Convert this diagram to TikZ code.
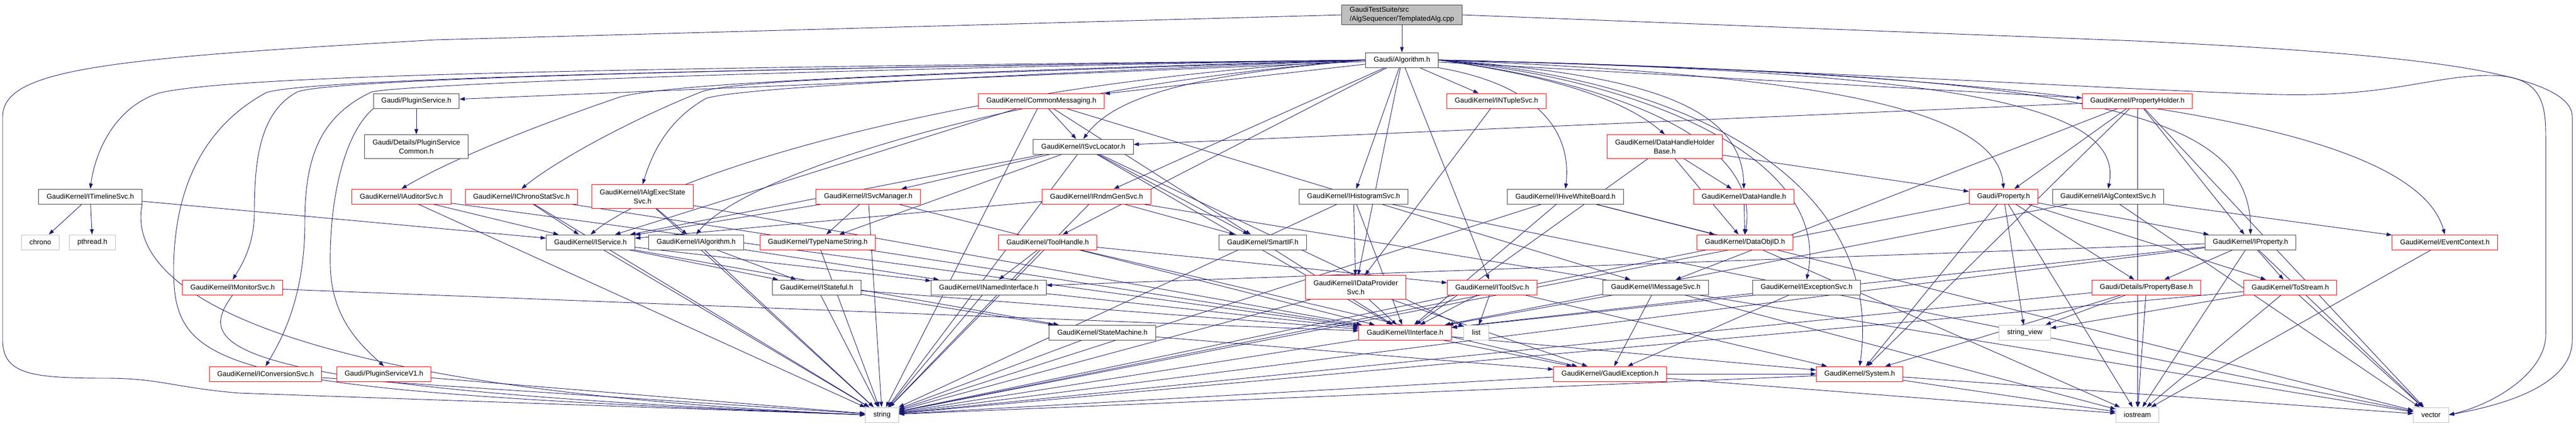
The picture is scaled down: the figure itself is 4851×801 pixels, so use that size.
\documentclass[tikz,border=0pt]{standalone}
\usepackage{fontspec}
\setmainfont{Liberation Sans}
\usetikzlibrary{arrows.meta}
\definecolor{edgec}{HTML}{191970}
\definecolor{grayb}{HTML}{BFBFBF}
\definecolor{darkb}{HTML}{404040}
\definecolor{redb}{HTML}{FF0000}
\pgfdeclarelayer{bg}
\pgfdeclarelayer{paper}
\pgfsetlayers{paper,bg,main}
\begin{document}
\begin{tikzpicture}[x=1pt,y=1pt,
  nbox/.style={draw, line width=1pt, fill=white, inner xsep=15pt, inner ysep=4pt, minimum height=28pt, font=\fontsize{13.3}{17}\selectfont, align=center},
  nb/.style={nbox, draw=darkb},
  nr/.style={nbox, draw=redb},
  ng/.style={nbox, draw=grayb},
  two/.style={minimum height=45pt},
  e/.style={draw=edgec, line width=0.9pt, -{Triangle[length=10pt,width=7pt]}}]
\begin{pgfonlayer}{paper}
\fill[white] (0,0) rectangle (4851,-801);
\end{pgfonlayer}
\useasboundingbox (0,0) rectangle (4851,-801);

% nodes
\node[nb, fill=grayb, align=left] (root) at (2640,-28) {GaudiTestSuite/src\\/AlgSequencer/TemplatedAlg.cpp};
\node[nb] (alg) at (2640,-113) {Gaudi/Algorithm.h};
\node[nb] (plug) at (784,-190) {Gaudi/PluginService.h};
\node[nb, two] (plugc) at (784,-276) {Gaudi/Details/PluginService\\Common.h};
\node[nr] (plugv1) at (723,-704) {Gaudi/PluginServiceV1.h};
\node[nr] (cmsg) at (1961,-190) {GaudiKernel/CommonMessaging.h};
\node[nr] (ntup) at (2818,-190) {GaudiKernel/INTupleSvc.h};
\node[nr] (ph) at (4025,-190) {GaudiKernel/PropertyHolder.h};
\node[nb] (svcloc) at (2040,-276) {GaudiKernel/ISvcLocator.h};
\node[nr, two] (dhhb) at (3135,-276) {GaudiKernel/DataHandleHolder\\Base.h};
\node[nb] (timel) at (170,-370) {GaudiKernel/ITimelineSvc.h};
\node[nr] (aud) at (756,-370) {GaudiKernel/IAuditorSvc.h};
\node[nr] (chst) at (982,-370) {GaudiKernel/IChronoStatSvc.h};
\node[nr, two] (aes) at (1210,-370) {GaudiKernel/IAlgExecState\\Svc.h};
\node[nr] (svcm) at (1635,-370) {GaudiKernel/ISvcManager.h};
\node[nr] (rndm) at (2065,-370) {GaudiKernel/IRndmGenSvc.h};
\node[nb] (hist) at (2549,-370) {GaudiKernel/IHistogramSvc.h};
\node[nb] (hive) at (2948,-370) {GaudiKernel/IHiveWhiteBoard.h};
\node[nr] (dh) at (3284,-370) {GaudiKernel/DataHandle.h};
\node[nr] (prop) at (3773,-370) {Gaudi/Property.h};
\node[nb] (actx) at (3970,-370) {GaudiKernel/IAlgContextSvc.h};
\node[ng] (chrono) at (76,-456) {chrono};
\node[ng] (pthread) at (174,-456) {pthread.h};
\node[nb] (isvc) at (1112,-456) {GaudiKernel/IService.h};
\node[nb] (ialg) at (1311,-456) {GaudiKernel/IAlgorithm.h};
\node[nr] (tns) at (1540,-456) {GaudiKernel/TypeNameString.h};
\node[nr] (th) at (1973,-456) {GaudiKernel/ToolHandle.h};
\node[nb] (sif) at (2378,-456) {GaudiKernel/SmartIF.h};
\node[nr] (doid) at (3286,-456) {GaudiKernel/DataObjID.h};
\node[nb] (iprop) at (4238,-456) {GaudiKernel/IProperty.h};
\node[nr] (ectx) at (4604,-456) {GaudiKernel/EventContext.h};
\node[nr] (mon) at (438,-541) {GaudiKernel/IMonitorSvc.h};
\node[nb] (istf) at (1538,-541) {GaudiKernel/IStateful.h};
\node[nb] (inamed) at (1862,-541) {GaudiKernel/INamedInterface.h};
\node[nr, two] (idp) at (2553,-541) {GaudiKernel/IDataProvider\\Svc.h};
\node[nr] (itool) at (2810,-541) {GaudiKernel/IToolSvc.h};
\node[nb] (imsg) at (3118,-541) {GaudiKernel/IMessageSvc.h};
\node[nb] (iexc) at (3402,-541) {GaudiKernel/IExceptionSvc.h};
\node[nr] (pbase) at (4042,-541) {Gaudi/Details/PropertyBase.h};
\node[nr] (tostr) at (4313,-541) {GaudiKernel/ToStream.h};
\node[nb] (sm) at (2076,-626) {GaudiKernel/StateMachine.h};
\node[nr] (iint) at (2646,-626) {GaudiKernel/IInterface.h};
\node[ng] (list) at (2780,-626) {list};
\node[ng] (sview) at (3813,-626) {string\_view};
\node[nr] (conv) at (500,-704) {GaudiKernel/IConversionSvc.h};
\node[nr] (gexc) at (3032,-704) {GaudiKernel/GaudiException.h};
\node[nr] (sys) at (3502,-704) {GaudiKernel/System.h};
\node[ng] (string) at (1661,-781) {string};
\node[ng] (iostream) at (4025,-781) {iostream};
\node[ng] (vector) at (4578,-781) {vector};

\begin{pgfonlayer}{bg}
% root
\draw[e] (root) -- (alg);
\draw[e] (root.west) -- (820,-75) .. controls (200,-110) and (5,-130) .. (5,-220) -- (5,-640) .. controls (5,-705) and (60,-712) .. (200,-712) .. controls (300,-712) and (330,-730) .. (450,-740) -- (string.west);
\draw[e] (root.east) -- (4020,-77) .. controls (4500,-100) and (4844,-130) .. (4844,-220) -- (4844,-640) .. controls (4844,-730) and (4700,-765) .. (vector.east);
% Algorithm.h
\draw[e] (alg) -- (plug);
\draw[e] (alg) -- (cmsg);
\draw[e] (alg) -- (ntup);
\draw[e] (alg) -- (ph);
\draw[e] (alg) -- (rndm);
\draw[e] (alg) -- (th);
\draw[e] (alg) -- (hist);
\draw[e] (alg) -- (idp);
\draw[e] (alg) -- (itool);
\draw[e] (alg.west) .. controls (1200,-128) and (450,-140) .. (300,-175) .. controls (220,-200) and (180,-280) .. (timel.north);
\draw[e] (alg.west) .. controls (1300,-130) and (620,-150) .. (560,-173) .. controls (490,-210) and (479,-300) .. (479,-400) .. controls (479,-460) and (455,-500) .. (mon.north);
\draw[e] (alg.west) .. controls (1400,-133) and (760,-160) .. (700,-173) .. controls (600,-220) and (574,-300) .. (574,-420) .. controls (574,-560) and (530,-640) .. (conv.north);
\draw[e] (alg.west) .. controls (1300,-130) and (560,-150) .. (500,-175) .. controls (400,-230) and (330,-330) .. (327,-500) .. controls (325,-700) and (400,-735) .. (string.west);
\draw[e] (alg.west) .. controls (1600,-140) and (1250,-160) .. (1166,-183) .. controls (1000,-240) and (850,-300) .. (aud.north);
\draw[e] (alg.west) .. controls (1700,-142) and (1400,-150) .. (1323,-172) .. controls (1200,-220) and (1050,-300) .. (chst.north);
\draw[e] (alg.west) .. controls (1800,-145) and (1400,-165) .. (1330,-185) .. controls (1250,-230) and (1225,-300) .. (aes.north);
\draw[e] (alg.west) .. controls (1800,-155) and (1250,-330) .. (isvc.north);
\draw[e] (alg.west) .. controls (1900,-165) and (1400,-330) .. (ialg.north);
\draw[e] (alg.west) .. controls (2250,-140) and (2100,-180) .. (svcloc.north);
\draw[e] (alg.east) .. controls (2900,-140) and (3050,-180) .. (dhhb.north);
\draw[e] (alg.south east) .. controls (2900,-160) and (2960,-250) .. (hive.north);
\draw[e] (alg.east) .. controls (3100,-140) and (3280,-200) .. (dh.north);
\draw[e] (alg.east) .. controls (3000,-150) and (3320,-250) .. (doid.north);
\draw[e] (alg.east) .. controls (3100,-150) and (3450,-300) .. (iexc.north);
\draw[e] (alg.east) .. controls (3200,-150) and (3550,-350) .. (sys.north);
\draw[e] (alg.east) .. controls (3400,-140) and (3760,-200) .. (prop.north);
\draw[e] (alg.east) .. controls (3700,-135) and (4000,-200) .. (actx.north);
\draw[e] (alg.east) .. controls (3900,-140) and (4240,-200) .. (iprop.north);
\draw[e] (alg.east) .. controls (4000,-140) and (4550,-250) .. (ectx.north);
\draw[e] (alg.east) .. controls (3400,-130) and (4000,-170) .. (4290,-178) .. controls (4500,-183) and (4580,-142) .. (4690,-142) .. controls (4790,-142) and (4794,-200) .. (4794,-260) -- (4794,-630) .. controls (4794,-700) and (4700,-760) .. (vector.east);
% PluginService
\draw[e] (plug) -- (plugc);
\draw[e] (plug.south west) .. controls (640,-260) and (620,-400) .. (622,-500) .. controls (624,-600) and (680,-650) .. (plugv1.north);
\draw[e] (plugv1) -- (string);
% ITimelineSvc
\draw[e] (timel) -- (chrono);
\draw[e] (timel) -- (pthread);
\draw[e] (timel) -- (isvc);
\draw[e] (timel.south east) .. controls (255,-450) and (240,-720) .. (string.west);
% left red nodes
\draw[e] (mon) -- (iint);
\draw[e] (mon.south) .. controls (370,-650) and (380,-730) .. (string.west);
\draw[e] (conv) -- (string);
\draw[e] (aud) -- (isvc);
\draw[e] (aud) -- (iint);
\draw[e] (aud) -- (string);
\draw[e] (chst) -- (isvc);
\draw[e] (chst) -- (iint);
\draw[e] (chst) -- (string);
\draw[e] (aes) -- (ialg);
\draw[e] (aes) -- (iint);
\draw[e] (aes) -- (string);
% CommonMessaging
\draw[e] (cmsg) -- (isvc);
\draw[e] (cmsg) -- (svcloc);
\draw[e] (cmsg) -- (imsg);
\draw[e] (cmsg) -- (sif);
\draw[e] (cmsg) -- (string);
% ISvcLocator
\draw[e] (svcloc) -- (svcm);
\draw[e] (svcloc) -- (tns);
\draw[e] (svcloc) -- (sif);
\draw[e] (svcloc) -- (iint);
\draw[e] (svcloc) -- (list);
\draw[e] (svcloc) -- (string);
\draw[e] (svcloc) -- (isvc);
% ISvcManager
\draw[e] (svcm) -- (isvc);
\draw[e] (svcm) -- (tns);
\draw[e] (svcm) -- (iint);
\draw[e] (svcm) -- (string);
% IRndmGenSvc
\draw[e] (rndm) -- (isvc);
\draw[e] (rndm) -- (sif);
\draw[e] (rndm) -- (string);
\draw[e] (rndm) -- (vector);
% data services
\draw[e] (ntup) -- (idp);
\draw[e] (hist) -- (idp);
\draw[e] (hist) -- (string);
\draw[e] (hist) -- (iint);
\draw[e] (hist) -- (vector);
\draw[e] (hive) -- (iint);
\draw[e] (hive) -- (string);
\draw[e] (hive) -- (vector);
\draw[e] (hive) -- (doid);
\draw[e] (dhhb) -- (dh);
\draw[e] (dhhb) -- (doid);
\draw[e] (dhhb) -- (prop);
\draw[e] (dhhb) -- (iint);
\draw[e] (dh) -- (doid);
% PropertyHolder
\draw[e] (ph) -- (svcloc);
\draw[e] (ph) -- (prop);
\draw[e] (ph) -- (iprop);
\draw[e] (ph) -- (imsg);
\draw[e] (ph) -- (sys);
\draw[e] (ph) -- (iostream);
\draw[e] (ph) -- (vector);
% Gaudi/Property.h
\draw[e] (prop) -- (pbase);
\draw[e] (prop) -- (sview);
\draw[e] (prop) -- (iprop);
\draw[e] (prop) -- (tostr);
\draw[e] (prop) -- (string);
\draw[e] (prop) -- (iostream);
\draw[e] (prop) -- (sys);
% IAlgContextSvc
\draw[e] (actx) -- (ectx);
\draw[e] (actx) -- (iint);
\draw[e] (actx) -- (vector);
% IService / IAlgorithm
\draw[e] (isvc) -- (istf);
\draw[e] (isvc) -- (inamed);
\draw[e] (isvc) -- (sm);
\draw[e] (isvc) -- (string);
\draw[e] (ialg) -- (istf);
\draw[e] (ialg) -- (inamed);
\draw[e] (ialg) -- (string);
\draw[e] (tns) -- (string);
% ToolHandle
\draw[e] (th) -- (inamed);
\draw[e] (th) -- (string);
\draw[e] (th) -- (itool);
\draw[e] (th) -- (gexc);
\draw[e] (sif) -- (iint);
\draw[e] (doid) -- (iostream);
\draw[e] (doid) -- (string);
% IProperty
\draw[e] (iprop) -- (pbase);
\draw[e] (iprop) -- (tostr);
\draw[e] (iprop) -- (inamed);
\draw[e] (iprop) -- (iint);
\draw[e] (iprop) -- (string);
\draw[e] (iprop) -- (vector);
\draw[e] (iprop) -- (iostream);
\draw[e] (ectx) -- (iostream);
% level 5
\draw[e] (istf) -- (sm);
\draw[e] (istf) -- (string);
\draw[e] (istf) -- (iint);
\draw[e] (inamed) -- (iint);
\draw[e] (inamed) -- (string);
\draw[e] (idp) -- (iint);
\draw[e] (idp) -- (string);
\draw[e] (idp) -- (gexc);
\draw[e] (itool) -- (iint);
\draw[e] (itool) -- (list);
\draw[e] (itool) -- (sys);
\draw[e] (itool) -- (string);
\draw[e] (imsg) -- (iint);
\draw[e] (imsg) -- (gexc);
\draw[e] (imsg) -- (iostream);
\draw[e] (iexc) -- (iint);
\draw[e] (iexc) -- (gexc);
\draw[e] (pbase) -- (sview);
\draw[e] (pbase) -- (iostream);
\draw[e] (pbase) -- (sys);
\draw[e] (pbase) -- (string);
\draw[e] (tostr) -- (iostream);
\draw[e] (tostr) -- (vector);
\draw[e] (tostr) -- (string);
\draw[e] (tostr) -- (sview);
% lower levels
\draw[e] (sm) -- (gexc);
\draw[e] (sm) -- (string);
\draw[e] (iint) -- (sys);
\draw[e] (iint) -- (gexc);
\draw[e] (iint) -- (string);
\draw[e] (gexc) -- (sys);
\draw[e] (gexc) -- (string);
\draw[e] (gexc) -- (iostream);
\draw[e] (sys) -- (string);
\draw[e] (sys) -- (iostream);
\draw[e] (sys) -- (vector);
\end{pgfonlayer}
\end{tikzpicture}
\end{document}
